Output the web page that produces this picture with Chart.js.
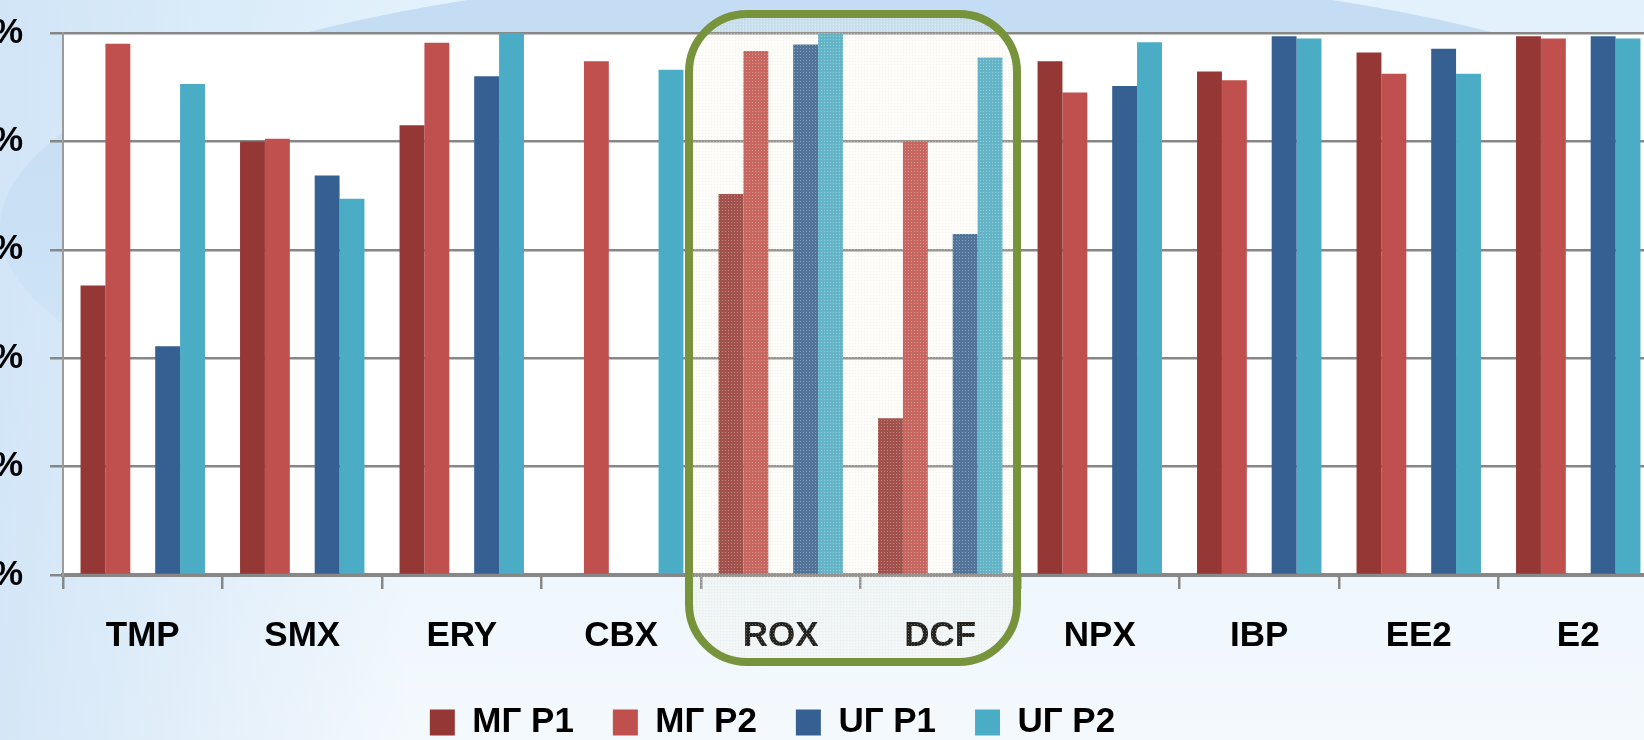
<!DOCTYPE html>
<html>
<head>
<meta charset="utf-8">
<script src="https://cdn.jsdelivr.net/npm/chart.js@4.4.1/dist/chart.umd.min.js"></script>
<style>
  html, body { margin: 0; padding: 0; width: 1644px; height: 740px; overflow: hidden; }
  body { position: relative;
         background: linear-gradient(90deg, rgba(205,226,246,0.8) 0%, rgba(225,240,251,0) 25%),
                     linear-gradient(180deg, #e2f1fb 0%, #e9f4fc 55%, #f4f9fd 100%); }
  #swoosh { position: absolute; left: 0; top: -32px; width: 1800px; height: 520px; border-radius: 50%;
            background: linear-gradient(180deg, #c3dcf3 0%, #cae1f5 50%, rgba(214,233,248,0.4) 100%); }
  #chart { position: absolute; left: -67px; top: 0; }
</style>
</head>
<body>
<div id="swoosh"></div>
<canvas id="chart" width="1730" height="750"></canvas>
<script>
// Removal efficiency per compound, four sampling series
const categories = ['TMP', 'SMX', 'ERY', 'CBX', 'ROX', 'DCF', 'NPX', 'IBP', 'EE2', 'E2'];
const mgP1 = [53.4, 80.0, 83.0, 0, 70.3, 28.9, 94.8, 92.9, 96.4, 99.4];
const mgP2 = [98.0, 80.5, 98.2, 94.8, 96.7, 80.0, 89.0, 91.3, 92.5, 99.0];
const ugP1 = [42.2, 73.7, 92.0, 0, 97.9, 62.9, 90.2, 99.4, 97.1, 99.4];
const ugP2 = [90.6, 69.4, 100, 93.2, 100, 95.5, 98.3, 99.0, 92.5, 99.0];
const seriesNames = ['МГ Р1', 'МГ Р2', 'UГ Р1', 'UГ Р2'];
const seriesColors = ['#953735', '#c0504d', '#376092', '#4bacc6'];
const yTicks = [0, 20, 40, 60, 80, 100];
// highlighted group of compounds
const highlighted = ['ROX', 'DCF'];

const FONT = 'Liberation Sans, Arial, sans-serif';
const GRID = '#878787';

function bars(label, data, color) {
  return { label, data, backgroundColor: color, borderWidth: 0, barPercentage: 1, categoryPercentage: 0.78 };
}

// white plotting area
const plotBackground = {
  id: 'plotBackground',
  beforeDraw(chart) {
    const { ctx, chartArea: a } = chart;
    ctx.save();
    ctx.fillStyle = '#ffffff';
    ctx.fillRect(a.left, a.top, a.right - a.left, a.bottom - a.top);
    ctx.restore();
  }
};

// legend sits slightly left of the canvas centre
const legendShift = {
  id: 'legendShift',
  afterLayout(chart) {
    chart.legend.left -= 23;
    chart.legend.right -= 23;
  }
};

// rounded frame around the highlighted compounds
function dotPattern(ctx) {
  const c = document.createElement('canvas');
  c.width = 3; c.height = 3;
  const p = c.getContext('2d');
  p.fillStyle = 'rgba(240,238,205,0.15)';
  p.fillRect(0, 0, 3, 3);
  p.fillStyle = 'rgba(255,255,250,0.30)';
  p.fillRect(0, 0, 1, 1);
  p.fillStyle = 'rgba(110,110,100,0.06)';
  p.fillRect(1, 1, 1, 1);
  return ctx.createPattern(c, 'repeat');
}

const frame = {
  id: 'frame',
  afterDraw(chart) {
    const { ctx, chartArea: a } = chart;
    const x = chart.scales.x;
    const i0 = categories.indexOf(highlighted[0]);
    const i1 = categories.indexOf(highlighted[highlighted.length - 1]);
    const half = (x.getPixelForValue(1) - x.getPixelForValue(0)) / 2;
    const left = x.getPixelForValue(i0) - half - 12;
    const right = x.getPixelForValue(i1) + half - 3;
    const top = a.top - 19;
    const bottom = a.bottom + 87;
    ctx.save();
    ctx.beginPath();
    ctx.roundRect(left, top, right - left, bottom - top, 58);
    ctx.fillStyle = dotPattern(ctx);
    ctx.fill();
    ctx.lineWidth = 8;
    ctx.strokeStyle = '#77933c';
    ctx.stroke();
    ctx.restore();
  }
};

new Chart(document.getElementById('chart'), {
  type: 'bar',
  data: {
    labels: categories,
    datasets: [
      bars(seriesNames[0], mgP1, seriesColors[0]),
      bars(seriesNames[1], mgP2, seriesColors[1]),
      bars('', categories.map(() => null), 'rgba(0,0,0,0)'),
      bars(seriesNames[2], ugP1, seriesColors[2]),
      bars(seriesNames[3], ugP2, seriesColors[3])
    ]
  },
  options: {
    responsive: false,
    animation: false,
    layout: { padding: { top: 33, right: 5, left: 0, bottom: 0 } },
    plugins: {
      tooltip: { enabled: false },
      legend: {
        position: 'bottom',
        labels: {
          filter: item => item.text !== '',
          boxWidth: 25, boxHeight: 26, padding: 39,
          color: '#000',
          font: { family: FONT, size: 35, weight: 'bold' }
        }
      }
    },
    scales: {
      x: {
        afterFit(s) { s.height = 91; s.paddingLeft = 0; s.paddingRight = 0; },
        grid: { drawOnChartArea: false, drawTicks: true, tickLength: 14, color: GRID, lineWidth: 2.5 },
        border: { display: true, color: GRID, width: 4 },
        ticks: { color: '#000', padding: 26, maxRotation: 0, font: { family: FONT, size: 35, weight: 'bold' } }
      },
      y: {
        min: 0, max: 100,
        afterFit(s) { s.width = 130; s.paddingTop = 0; s.paddingBottom = 0; },
        afterBuildTicks(s) { s.ticks = yTicks.map(v => ({ value: v })); },
        grid: { color: GRID, lineWidth: 2.5, tickLength: 13, drawTicks: true },
        border: { display: true, color: '#9b9b9b', width: 2 },
        ticks: { color: '#000', padding: 27, callback: v => v + '%', font: { family: FONT, size: 35, weight: 'bold' } }
      }
    }
  },
  plugins: [plotBackground, legendShift, frame]
});
</script>
</body>
</html>
